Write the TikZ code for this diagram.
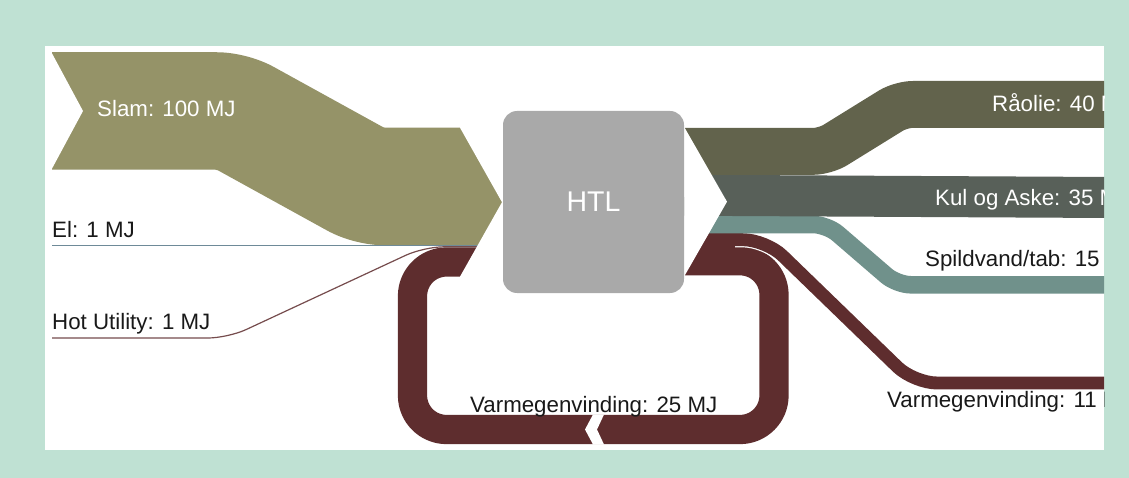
\documentclass[tikz,border=0pt]{standalone}
\usepackage{fontspec}
\setmainfont{Liberation Sans}
\definecolor{panelgreen}{RGB}{191,225,211}
\definecolor{slamcol}{RGB}{149,147,104}
\definecolor{oilcol}{RGB}{98,99,76}
\definecolor{ashcol}{RGB}{88,96,89}
\definecolor{watercol}{RGB}{112,145,139}
\definecolor{heatcol}{RGB}{94,45,46}
\definecolor{elcol}{RGB}{110,138,152}
\definecolor{boxcol}{RGB}{169,169,169}
\begin{document}
\begin{tikzpicture}[x=1pt,y=-1pt,
  band/.style={line cap=butt, line join=round},
  lbl/.style={font=\fontsize{22.3}{26}\selectfont, inner sep=0pt, anchor=base west},
  lightlbl/.style={lbl, text=white},
  darklbl/.style={lbl, text=black!90},
  htlbox/.style={fill=boxcol, rounded corners=14, minimum width=181, minimum height=182,
    inner sep=0pt, text=white, font=\fontsize{28.5}{32}\selectfont}]
\useasboundingbox (0,0) rectangle (1129,478);
\fill[panelgreen] (0,0) rectangle (1129,478);
\fill[white] (45,46) rectangle (1104,450);

% flow end points
\coordinate (slamsrc) at (52,111);
\coordinate (elsrc)   at (52,245.7);
\coordinate (hotsrc)  at (52,338);
\coordinate (inslam)  at (502,186.5);
\coordinate (inel)    at (502,245.7);
\coordinate (inhot)   at (502,246.8);
\coordinate (inloop)  at (502,262);
\coordinate (outoil)  at (685,151.4);
\coordinate (outash)  at (685,195.25);
\coordinate (outwater) at (685,224.5);
\coordinate (outheat) at (685,239.7);
\coordinate (outloop) at (685,260.75);
\coordinate (oilend)  at (1110,104.4);
\coordinate (ashend)  at (1110,197.5);
\coordinate (waterend) at (1110,284.8);
\coordinate (heatend) at (1110,383);

\begin{scope}
\clip (45,46) rectangle (1104,450);

% heat recovery loop back into the reactor
\draw[band, heatcol, line width=29.25, rounded corners=34]
  (outloop) -- (774,260.75) -- (774,429.5) -- (412.5,429.5) -- (412.5,262) -- (inloop);

% inputs
\draw[band, slamcol, line width=117.5, rounded corners=15]
  (slamsrc) -- (232,111) -- (369,186.5) -- (inslam);
\draw[band, elcol, line width=1.1] (elsrc) -- (inel);
\draw[band, heatcol!85, line width=1.2, rounded corners=20]
  (hotsrc) -- (228,338) -- (424,246.8) -- (inhot);

% arrow tip of the input group
\fill[white] (460,127.75) -- (502,202.2) -- (504,202.2) -- (504,123) -- (460,123) -- cycle;
\fill[white] (460,276.6) -- (502,202.2) -- (504,202.2) -- (504,281) -- (460,281) -- cycle;

% outputs
\begin{scope}
  \clip (735,46) rectangle (1110,450);
  \draw[band, white, line width=15.3, rounded corners=23]
    (outheat) -- (766,239.7) -- (914,383) -- (heatend);
\end{scope}
\draw[band, heatcol, line width=12.9, rounded corners=23]
  (outheat) -- (766,239.7) -- (914,383) -- (heatend);
\draw[band, watercol, line width=17.55, rounded corners=14]
  (outwater) -- (827,224.5) -- (897,284.8) -- (waterend);
\draw[band, ashcol, line width=41] (outash) -- (ashend);
\draw[band, oilcol, line width=46.8, rounded corners=12]
  (outoil) -- (825,151.4) -- (901,104.4) -- (oilend);

% notched tails and the break in the loop
\fill[white] (684.5,127.5) -- (727,201.7) -- (684.5,275.9) -- cycle;
\fill[white] (51,51.5) -- (83,111) -- (51,170.5) -- cycle;
\fill[white] (593,414.5) -- (585,429.5) -- (593,444.5) -- (604,444.5) -- (597,429.5) -- (604,414.5) -- cycle;

% reactor
\node[htlbox] (htl) at (593.5,202) {HTL};

% labels
\node[lightlbl] (lslam) at (97,117) {Slam: 100 MJ};
\node[darklbl] (lel) at (52,238) {El: 1 MJ};
\node[darklbl] (lhot) at (52,329) {Hot Utility: 1 MJ};
\node[darklbl] (lloop) at (470,412) {Varmegenvinding: 25 MJ};
\node[lightlbl] (loil) at (992,112) {Råolie: 40 MJ};
\node[lightlbl] (lash) at (935,206) {Kul og Aske: 35 MJ};
\node[darklbl] (lwater) at (925,267) {Spildvand/tab: 15 MJ};
\node[darklbl] (lheat) at (887,407.5) {Varmegenvinding: 11 MJ};
\end{scope}
\end{tikzpicture}
\end{document}
